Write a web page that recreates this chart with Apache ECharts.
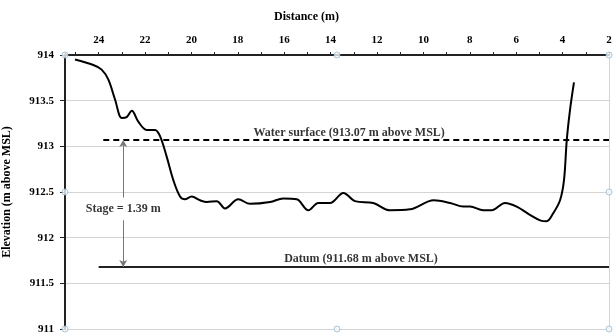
<!DOCTYPE html>
<html><head><meta charset="utf-8">
<script src="https://cdn.jsdelivr.net/npm/echarts@6/dist/echarts.min.js"></script>
<style>html,body{margin:0;padding:0;background:#fff}#c{width:613px;height:334px}</style>
</head><body><div id="c"></div>
<script>
var distance = [25.02,24.23,23.87,23.58,23.29,23.00,22.79,22.57,22.29,21.93,21.57,21.35,21.07,20.78,20.49,20.28,19.99,19.63,19.34,18.91,18.55,17.98,17.47,16.61,16.04,15.46,14.96,14.53,14.03,13.45,12.95,12.16,11.44,10.58,9.55,8.85,8.28,7.99,7.42,7.06,6.48,5.98,5.41,4.97,4.69,4.40,4.11,3.94,3.82,3.68,3.51];
var elevation = [913.95,913.89,913.84,913.73,913.51,913.31,913.32,913.39,913.27,913.18,913.18,913.11,912.89,912.63,912.45,912.42,912.45,912.41,912.39,912.40,912.32,912.42,912.37,912.39,912.43,912.42,912.30,912.38,912.38,912.49,912.40,912.38,912.30,912.31,912.41,912.38,912.34,912.34,912.30,912.30,912.38,912.34,912.25,912.19,912.18,912.27,912.41,912.63,913.07,913.40,913.70];
var waterLevel = 913.07, waterStart = 23.8;
var datumLevel = 911.68, datumStart = 24.0;
var stageX = 22.94;
var xTicks = [2,4,6,8,10,12,14,16,18,20,22,24];
var yTicks = [911,911.5,912,912.5,913,913.5,914];
var xMin = 2, xMax = 25.45, yMin = 911, yMax = 914;
var labelWater = 'Water surface (913.07 m above MSL)';
var labelDatum = 'Datum (911.68 m above MSL)';
var labelStage = 'Stage = 1.39 m';

var F = 'Liberation Serif';
var chart = echarts.init(document.getElementById('c'), null, {renderer:'canvas'});
var xMid = (xMin + xMax) / 2, yMid = (yMin + yMax) / 2;
var handles = [[xMax,yMax],[xMid,yMax],[xMin,yMax],[xMax,yMid],[xMin,yMid],[xMax,yMin],[xMid,yMin],[xMin,yMin]];
chart.setOption({
  animation:false,
  title:{text:'Distance (m)', left:'center', top:6, textStyle:{fontFamily:F,fontWeight:'bold',fontSize:12,color:'#000'}},
  grid:{left:65,right:4,top:55,bottom:5,containLabel:false,outerBoundsMode:'none'},
  xAxis:{type:'value', position:'top', inverse:true, min:xMin, max:xMax, interval:2,
    axisLine:{lineStyle:{color:'#222',width:2}},
    axisTick:{show:true,inside:false,length:3,lineStyle:{color:'#222',width:1}},
    minorTick:{show:true,splitNumber:2,length:3,lineStyle:{color:'#222',width:1}},
    axisLabel:{fontFamily:F,fontWeight:'bold',fontSize:11,color:'#000',margin:9,showMaxLabel:false,
      formatter:function(v){return xTicks.indexOf(v)>=0?String(v):'';}},
    splitLine:{show:false}},
  yAxis:[{type:'value', min:yMin, max:yMax, interval:0.5,
    name:'Elevation (m above MSL)', nameLocation:'middle', nameGap:52, nameRotate:90,
    nameTextStyle:{fontFamily:F,fontWeight:'bold',fontSize:12,color:'#000'},
    axisLine:{show:true,lineStyle:{color:'#222',width:2}},
    axisTick:{show:true,length:5,lineStyle:{color:'#222'}},
    axisLabel:{fontFamily:F,fontWeight:'bold',fontSize:11,color:'#000',margin:11,
      formatter:function(v){return yTicks.indexOf(v)>=0?String(v):'';}},
    splitLine:{show:true,lineStyle:{color:'#d4d4d4',width:1}}},
   {type:'value', position:'right', min:yMin, max:yMax, interval:0.5,
    axisLine:{show:true,lineStyle:{color:'#d4d4d4',width:1}},
    axisTick:{show:false}, axisLabel:{show:false}, splitLine:{show:false}}],
  series:[
    {type:'line', data:distance.map(function(d,i){return [d,elevation[i]];}), smooth:0.35, symbol:'none',
     lineStyle:{color:'#000',width:2}, z:5},
    {type:'line', data:[[waterStart,waterLevel],[xMin,waterLevel]], symbol:'none',
     lineStyle:{color:'#000',width:2,type:[6,4]}, z:4},
    {type:'line', data:[[datumStart,datumLevel],[xMin,datumLevel]], symbol:'none',
     lineStyle:{color:'#222',width:2}, z:4,
     markLine:{silent:true, symbol:['none','arrow'], symbolSize:[6,7], label:{show:false},
       lineStyle:{color:'#777',width:1,type:'solid'},
       data:[[{coord:[stageX,912.44]},{coord:[stageX,waterLevel]}],[{coord:[stageX,912.19]},{coord:[stageX,datumLevel]}]]}},
    {type:'scatter', symbolSize:0, silent:true, z:6,
     label:{show:true,position:'inside',fontFamily:F,fontWeight:'bold',fontSize:12,color:'#000',
       formatter:function(p){return p.data[2];}},
     data:[[13.2,913.15,labelWater],[12.69,911.77,labelDatum],[stageX,912.32,labelStage]]},
    {type:'scatter', symbol:'circle', symbolSize:6, silent:true, z:10,
     itemStyle:{color:'#f4f8fb',borderColor:'#9bb8cc',borderWidth:1},
     data:handles}
  ]
});
</script></body></html>
